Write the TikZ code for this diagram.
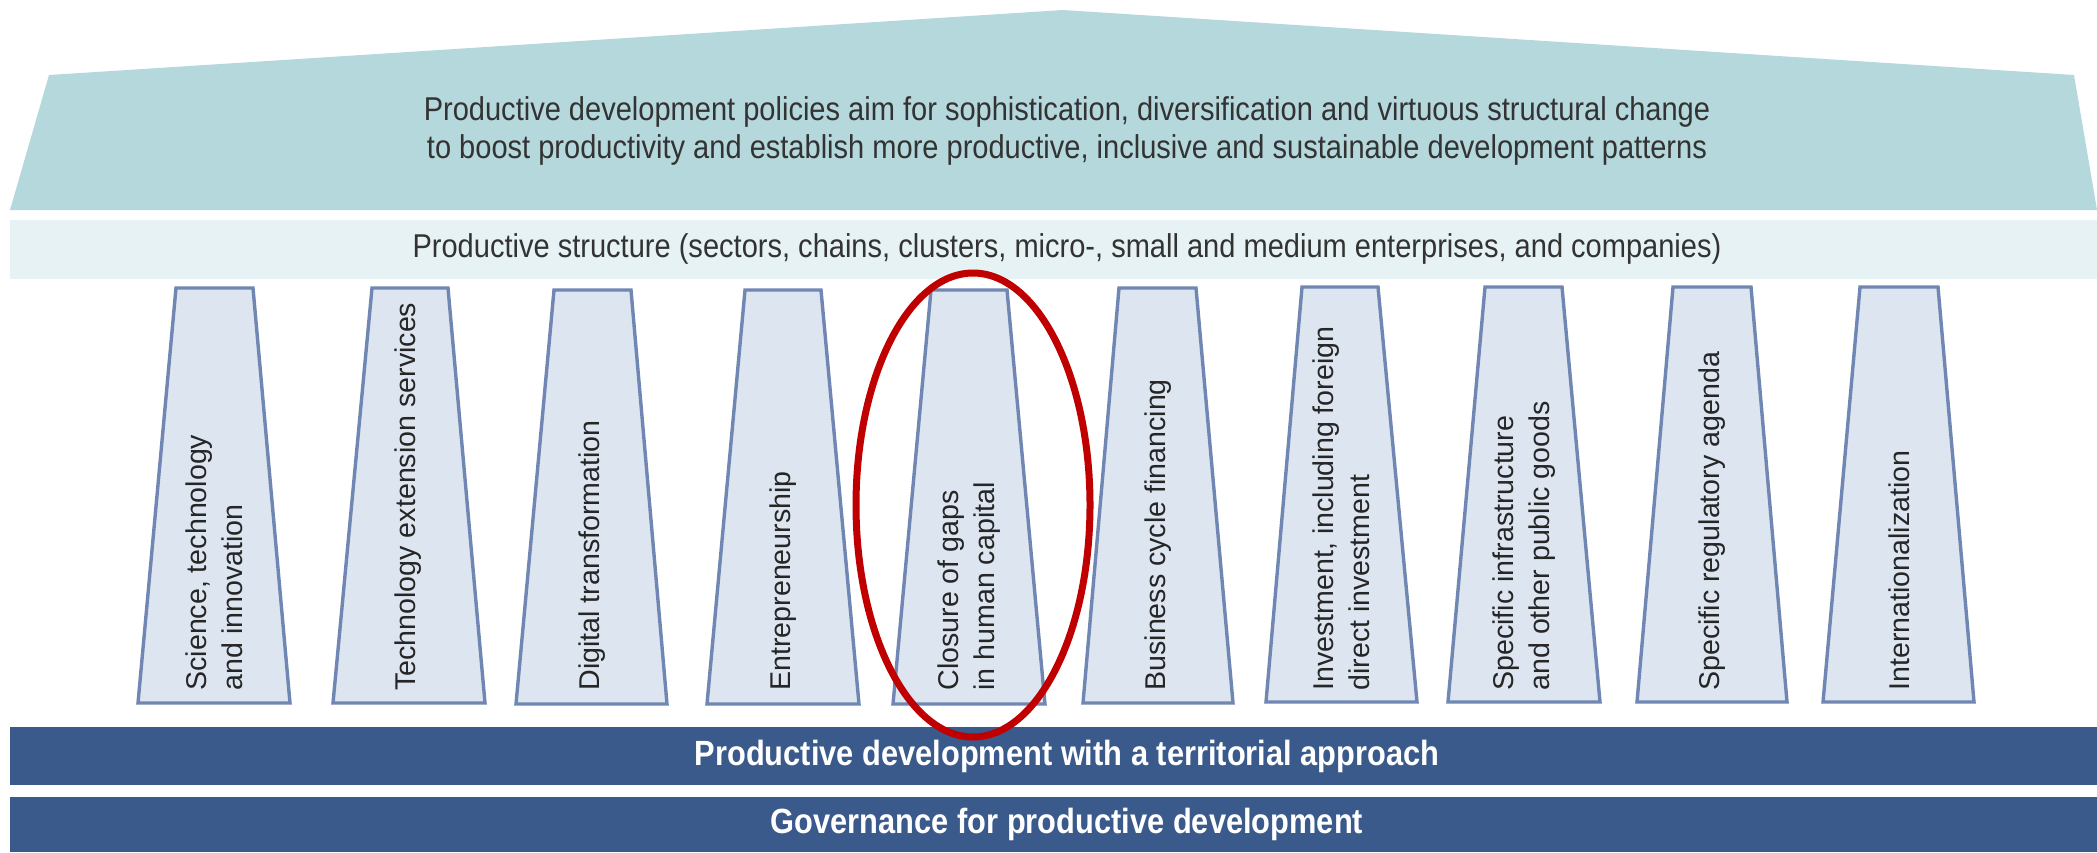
\documentclass[tikz,border=0pt]{standalone}
\usepackage{fontspec}
\setmainfont{Liberation Sans}
\newfontfamily\narrowfont{Liberation Sans}[FakeStretch=0.88]
\usetikzlibrary{positioning}

\definecolor{roofteal}{HTML}{B5D8DD}
\definecolor{bandpale}{HTML}{E6F2F3}
\definecolor{pillarfill}{HTML}{DDE5F0}
\definecolor{pillarline}{HTML}{6F87B2}
\definecolor{barblue}{HTML}{3A5A8C}
\definecolor{markred}{HTML}{C00000}

\tikzset{
	pillar/.style={draw=pillarline, fill=pillarfill, line width=1.7pt, line join=miter},
	pillartext/.style={rotate=90, anchor=west, align=left, inner sep=0pt, text=black!85, font=\fontsize{14.3}{18}\selectfont},
	headtext/.style={align=center, text=black!80, font=\narrowfont\fontsize{16.5}{19}\selectfont},
	bartext/.style={text=white, font=\narrowfont\bfseries\fontsize{17.5}{20}\selectfont},
}

\begin{document}
\begin{tikzpicture}[x=0.5pt, y=-0.5pt]
		\useasboundingbox (0,0) rectangle (2097,852);

		% roof and productive structure
		\fill[roofteal] (10,210) -- (49,75) -- (1063,10) -- (2074,75) -- (2097,210) -- cycle;
		\node[headtext] (aim) at (1067,131) {Productive development policies aim for sophistication, diversification and virtuous structural change\\to boost productivity and establish more productive, inclusive and sustainable development patterns};
		\fill[bandpale] (10,220) rectangle (2097,279);
		\node[headtext] (structure) at (1067,249) {Productive structure (sectors, chains, clusters, micro-, small and medium enterprises, and companies)};

		% pillars
		\draw[pillar] (176,288) -- (253,288) -- (290,703) -- (138,703) -- cycle;
		\node[pillartext] (p1) at (214,691) {Science, technology\\and innovation};
		\draw[pillar] (372,288) -- (448,288) -- (485,703) -- (333,703) -- cycle;
		\node[pillartext] (p2) at (408,691) {Technology extension services};
		\draw[pillar] (554,290) -- (631,290) -- (667,704) -- (516,704) -- cycle;
		\node[pillartext] (p3) at (592,691) {Digital transformation};
		\draw[pillar] (745,290) -- (821,290) -- (859,704) -- (707,704) -- cycle;
		\node[pillartext] (p4) at (783,691) {Entrepreneurship};
		\draw[pillar] (931,290) -- (1007,290) -- (1045,704) -- (893,704) -- cycle;
		\node[pillartext] (p5) at (969,691) {Closure of gaps\\in human capital};
		\draw[pillar] (1119,288) -- (1196,288) -- (1233,703) -- (1083,703) -- cycle;
		\node[pillartext] (p6) at (1158,691) {Business cycle financing};
		\draw[pillar] (1302,287) -- (1378,287) -- (1417,702) -- (1266,702) -- cycle;
		\node[pillartext] (p7) at (1341,691) {Investment, including foreign\\direct investment};
		\draw[pillar] (1485,287) -- (1562,287) -- (1600,702) -- (1448,702) -- cycle;
		\node[pillartext] (p8) at (1524,691) {Specific infrastructure\\and other public goods};
		\draw[pillar] (1673,287) -- (1751,287) -- (1787,702) -- (1637,702) -- cycle;
		\node[pillartext] (p9) at (1712,691) {Specific regulatory agenda};
		\draw[pillar] (1860,287) -- (1938,287) -- (1974,702) -- (1823,702) -- cycle;
		\node[pillartext] (p10) at (1899,691) {Internationalization};

		% foundations
		\fill[barblue] (10,727) rectangle (2097,785);
		\node[bartext] (territorial) at (1067,756) {Productive development with a territorial approach};
		\fill[barblue] (10,797) rectangle (2097,852);
		\node[bartext] (governance) at (1067,824) {Governance for productive development};

		% highlight
		\draw[markred, line width=3.5pt] (973,505) ellipse [x radius=117, y radius=232];
	\end{tikzpicture}
\end{document}
